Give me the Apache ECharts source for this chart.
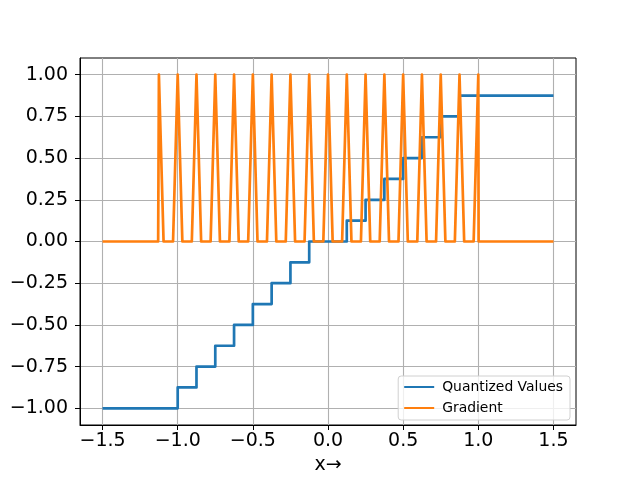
<!DOCTYPE html>
<html>
<head>
<meta charset="utf-8">
<script src="https://cdn.jsdelivr.net/npm/echarts@6/dist/echarts.min.js"></script>
<style>html,body{margin:0;padding:0;background:#fff}#c{width:640px;height:480px}</style>
</head>
<body>
<div id="c"></div>
<script>
// Quantized step function: value after each breakpoint
const quantX = [-1.5, -1.0, -0.875, -0.75, -0.625, -0.5, -0.375, -0.25, -0.125, 0.125, 0.25, 0.375, 0.5, 0.625, 0.75, 0.875, 1.5];
const quantY = [-1.0, -0.875, -0.75, -0.625, -0.5, -0.375, -0.25, -0.125, 0.0, 0.125, 0.25, 0.375, 0.5, 0.625, 0.75, 0.875, 0.875];

// Gradient curve
const gradX = [-1.5,
  -1.13, -1.125, -1.094,
  -1.031, -1.0, -0.969,
  -0.906, -0.875, -0.844,
  -0.781, -0.75, -0.719,
  -0.656, -0.625, -0.594,
  -0.531, -0.5, -0.469,
  -0.406, -0.375, -0.344,
  -0.281, -0.25, -0.219,
  -0.156, -0.125, -0.094,
  -0.031, 0.0, 0.031,
  0.094, 0.125, 0.156,
  0.219, 0.25, 0.281,
  0.344, 0.375, 0.406,
  0.469, 0.5, 0.531,
  0.594, 0.625, 0.656,
  0.719, 0.75, 0.781,
  0.844, 0.875, 0.906,
  0.969, 1.0, 1.002,
  1.5];
const gradY = [0,
  0, 1, 0,
  0, 1, 0,
  0, 1, 0,
  0, 1, 0,
  0, 1, 0,
  0, 1, 0,
  0, 1, 0,
  0, 1, 0,
  0, 1, 0,
  0, 1, 0,
  0, 1, 0,
  0, 1, 0,
  0, 1, 0,
  0, 1, 0,
  0, 1, 0,
  0, 1, 0,
  0, 1, 0,
  0, 1, 0,
  0];

const xTicks = [-1.5, -1.0, -0.5, 0.0, 0.5, 1.0, 1.5];
const yTicks = [-1.0, -0.75, -0.5, -0.25, 0.0, 0.25, 0.5, 0.75, 1.0];
const seriesNames = ['Quantized Values', 'Gradient'];
const xName = 'x\u2192';

const fmt = (v, d) => { const s = Math.abs(v).toFixed(d); return (v < -1e-9 ? '\u2212' : '') + s; };
const FONT = 'DejaVu Sans';

const chart = echarts.init(document.getElementById('c'), null, {renderer: 'canvas'});
chart.setOption({
  animation: false,
  backgroundColor: '#fff',
  grid: {left: 80, right: 64, top: 58, bottom: 53, show: true, borderColor: '#000', borderWidth: 1, backgroundColor: 'transparent'},
  xAxis: {
    type: 'value', min: -1.65, max: 1.65,
    name: xName, nameLocation: 'middle', nameGap: 31,
    nameTextStyle: {fontFamily: FONT, fontSize: 19, color: '#000'},
    axisLine: {show: true, onZero: false, lineStyle: {color: '#000', width: 1}},
    axisTick: {show: true, inside: false, length: 5, customValues: xTicks, lineStyle: {color: '#000', width: 1}},
    axisLabel: {customValues: xTicks, fontFamily: FONT, fontSize: 19, color: '#000', margin: 7, formatter: v => fmt(v, 1)},
    splitLine: {show: true, lineStyle: {color: '#b0b0b0', width: 1.1}}
  },
  yAxis: {
    type: 'value', min: -1.1, max: 1.1,
    axisLine: {show: true, onZero: false, lineStyle: {color: '#000', width: 1}},
    axisTick: {show: true, inside: false, length: 5, customValues: yTicks, lineStyle: {color: '#000', width: 1}},
    axisLabel: {customValues: yTicks, fontFamily: FONT, fontSize: 19, color: '#000', margin: 12, formatter: v => fmt(v, 2)},
    splitLine: {show: true, lineStyle: {color: '#b0b0b0', width: 1.1}}
  },
  legend: {
    orient: 'vertical', right: 70, bottom: 60,
    data: seriesNames,
    itemWidth: 30, itemHeight: 14, itemGap: 7,
    padding: [4, 7, 5, 5],
    itemStyle: {opacity: 0},
    backgroundColor: 'rgba(255,255,255,0.8)', borderColor: '#d0d0d0', borderWidth: 1, borderRadius: 3,
    textStyle: {fontFamily: FONT, fontSize: 13.9, color: '#000', padding: [0, 0, 0, 3]},
    align: 'left'
  },
  series: [
    {
      name: seriesNames[0], type: 'line', step: 'end', symbol: 'none', z: 2,
      data: quantX.map((x, i) => [x, quantY[i]]),
      lineStyle: {color: '#1f77b4', width: 2.7, join: 'round'},
      itemStyle: {color: '#1f77b4'}
    },
    {
      name: seriesNames[1], type: 'line', symbol: 'none', z: 3,
      data: gradX.map((x, i) => [x, gradY[i]]),
      lineStyle: {color: '#ff7f0e', width: 2.7, join: 'round'},
      itemStyle: {color: '#ff7f0e'}
    }
  ]
});
</script>
</body>
</html>
